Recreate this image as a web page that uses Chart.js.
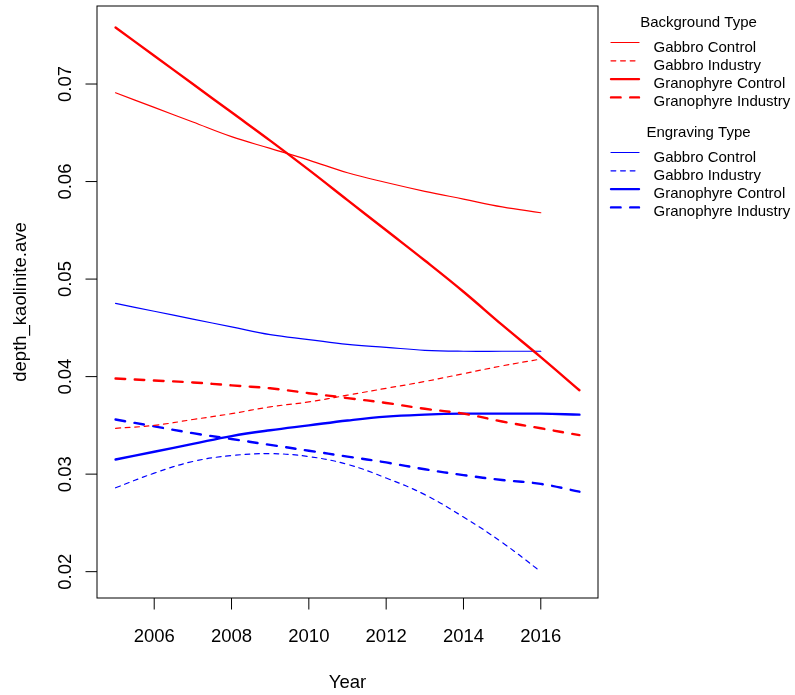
<!DOCTYPE html>
<html>
<head>
<meta charset="utf-8">
<script src="https://cdn.jsdelivr.net/npm/chart.js@4.4.1/dist/chart.umd.min.js"></script>
<style>
  html, body { margin: 0; padding: 0; background: #fff; }
  canvas { display: block; }
</style>
</head>
<body>
<canvas id="kaoliniteChart" width="795" height="695"></canvas>
<script>
// fitted depth_kaolinite.ave by year
const years = [2005, 2006, 2007, 2008, 2009, 2010, 2011, 2012, 2013, 2014, 2015, 2016, 2017];

// Background type (red)
const bgGabbroControl = [0.0691, 0.0676, 0.0661, 0.0646, 0.0634, 0.0622, 0.0609, 0.0599, 0.0590, 0.0582, 0.0574, 0.0568];
const bgGabbroIndustry = [0.0347, 0.0350, 0.0356, 0.0362, 0.0369, 0.0374, 0.0381, 0.0388, 0.0395, 0.0403, 0.0411, 0.0418];
const bgGranophyreControl = [0.0758, 0.0729, 0.0700, 0.0671, 0.0642, 0.0612, 0.0581, 0.0550, 0.0519, 0.0487, 0.0453, 0.0420, 0.0386];
const bgGranophyreIndustry = [0.0398, 0.0396, 0.0394, 0.0391, 0.0388, 0.0383, 0.0378, 0.0373, 0.0367, 0.0362, 0.0354, 0.0347, 0.0340];

// Engraving type (blue)
const enGabbroControl = [0.0475, 0.0467, 0.0459, 0.0451, 0.0443, 0.0438, 0.0433, 0.0430, 0.0427, 0.0426, 0.0426, 0.0426];
const enGabbroIndustry = [0.0286, 0.0301, 0.0313, 0.0319, 0.0321, 0.0318, 0.0310, 0.0296, 0.0279, 0.0256, 0.0230, 0.0200];
const enGranophyreControl = [0.0315, 0.0323, 0.0331, 0.0339, 0.0345, 0.0350, 0.0355, 0.0359, 0.0361, 0.0362, 0.0362, 0.0362, 0.0361];
const enGranophyreIndustry = [0.0356, 0.0349, 0.0342, 0.0336, 0.0330, 0.0324, 0.0318, 0.0312, 0.0305, 0.0299, 0.0294, 0.0290, 0.0282];

const xTicks = [2006, 2008, 2010, 2012, 2014, 2016];
const yTicks = [0.02, 0.03, 0.04, 0.05, 0.06, 0.07];
const yTickLabels = ["0.02", "0.03", "0.04", "0.05", "0.06", "0.07"];

const FONT = '"Liberation Sans", Arial, Helvetica, sans-serif';
const RED = "#ff0000";
const BLUE = "#0000ff";

function pts(values) {
  return values.map((v, i) => ({ x: years[i], y: v }));
}

// thin = gabbro, thick = granophyre; dashed = industry
function series(label, group, color, values, thick, dashed) {
  const w = thick ? 2.4 : 1.2;
  return {
    label,
    group,
    data: pts(values),
    borderColor: color,
    borderWidth: w,
    borderDash: dashed ? [w * 4, w * 4] : [],
    borderCapStyle: "round",
    pointRadius: 0,
    tension: 0.4,
    fill: false
  };
}

const datasets = [
  series("Gabbro Control", "Background Type", RED, bgGabbroControl, false, false),
  series("Gabbro Industry", "Background Type", RED, bgGabbroIndustry, false, true),
  series("Granophyre Control", "Background Type", RED, bgGranophyreControl, true, false),
  series("Granophyre Industry", "Background Type", RED, bgGranophyreIndustry, true, true),
  series("Gabbro Control", "Engraving Type", BLUE, enGabbroControl, false, false),
  series("Gabbro Industry", "Engraving Type", BLUE, enGabbroIndustry, false, true),
  series("Granophyre Control", "Engraving Type", BLUE, enGranophyreControl, true, false),
  series("Granophyre Industry", "Engraving Type", BLUE, enGranophyreIndustry, true, true)
];

// box, ticks, axis titles
const basePlot = {
  id: "basePlot",
  afterDraw(chart) {
    const { ctx, chartArea: a } = chart;
    const xs = chart.scales.x, ys = chart.scales.y;
    ctx.save();
    ctx.strokeStyle = "#000";
    ctx.lineWidth = 1;
    ctx.setLineDash([]);
    ctx.strokeRect(a.left, a.top, a.right - a.left, a.bottom - a.top);

    ctx.fillStyle = "#000";
    ctx.font = "18.5px " + FONT;

    // x axis
    ctx.textAlign = "center";
    ctx.textBaseline = "alphabetic";
    xTicks.forEach(t => {
      const px = xs.getPixelForValue(t);
      ctx.beginPath();
      ctx.moveTo(px, a.bottom);
      ctx.lineTo(px, a.bottom + 11.5);
      ctx.stroke();
      ctx.fillText(String(t), px, a.bottom + 43.5);
    });
    ctx.fillText("Year", (a.left + a.right) / 2, 688);

    // y axis, labels read upwards
    yTicks.forEach((t, i) => {
      const py = ys.getPixelForValue(t);
      ctx.beginPath();
      ctx.moveTo(a.left, py);
      ctx.lineTo(a.left - 11.5, py);
      ctx.stroke();
      ctx.save();
      ctx.translate(a.left - 26.5, py);
      ctx.rotate(-Math.PI / 2);
      ctx.fillText(yTickLabels[i], 0, 0);
      ctx.restore();
    });
    ctx.save();
    ctx.translate(26, (a.top + a.bottom) / 2);
    ctx.rotate(-Math.PI / 2);
    ctx.fillText("depth_kaolinite.ave", 0, 0);
    ctx.restore();
    ctx.restore();
  }
};

// two titled legend blocks to the right of the plot
const groupLegend = {
  id: "groupLegend",
  afterDraw(chart) {
    const ctx = chart.ctx;
    const blocks = [
      { title: "Background Type", titleY: 26.5, firstY: 42.5 },
      { title: "Engraving Type", titleY: 136.5, firstY: 152.5 }
    ];
    ctx.save();
    blocks.forEach(b => {
      ctx.fillStyle = "#000";
      ctx.font = "15px " + FONT;
      ctx.textAlign = "center";
      ctx.textBaseline = "alphabetic";
      ctx.fillText(b.title, 698.5, b.titleY);
      const items = chart.data.datasets.filter(d => d.group === b.title);
      items.forEach((d, i) => {
        const y = b.firstY + i * 18.3;
        ctx.strokeStyle = d.borderColor;
        ctx.lineWidth = d.borderWidth;
        ctx.lineCap = "round";
        ctx.setLineDash(d.borderDash);
        ctx.beginPath();
        ctx.moveTo(611, y);
        ctx.lineTo(639, y);
        ctx.stroke();
        ctx.setLineDash([]);
        ctx.fillStyle = "#000";
        ctx.textAlign = "left";
        ctx.fillText(d.label, 653.5, y + 9);
      });
    });
    ctx.restore();
  }
};

new Chart(document.getElementById("kaoliniteChart"), {
  type: "line",
  data: { datasets },
  options: {
    responsive: false,
    animation: false,
    devicePixelRatio: 1,
    layout: { padding: { left: 97, top: 6, right: 197, bottom: 97 } },
    plugins: {
      legend: { display: false },
      tooltip: { enabled: false }
    },
    scales: {
      x: { type: "linear", min: 2004.52, max: 2017.48, display: false },
      y: { type: "linear", min: 0.0173, max: 0.0780, display: false }
    }
  },
  plugins: [basePlot, groupLegend]
});
</script>
</body>
</html>
